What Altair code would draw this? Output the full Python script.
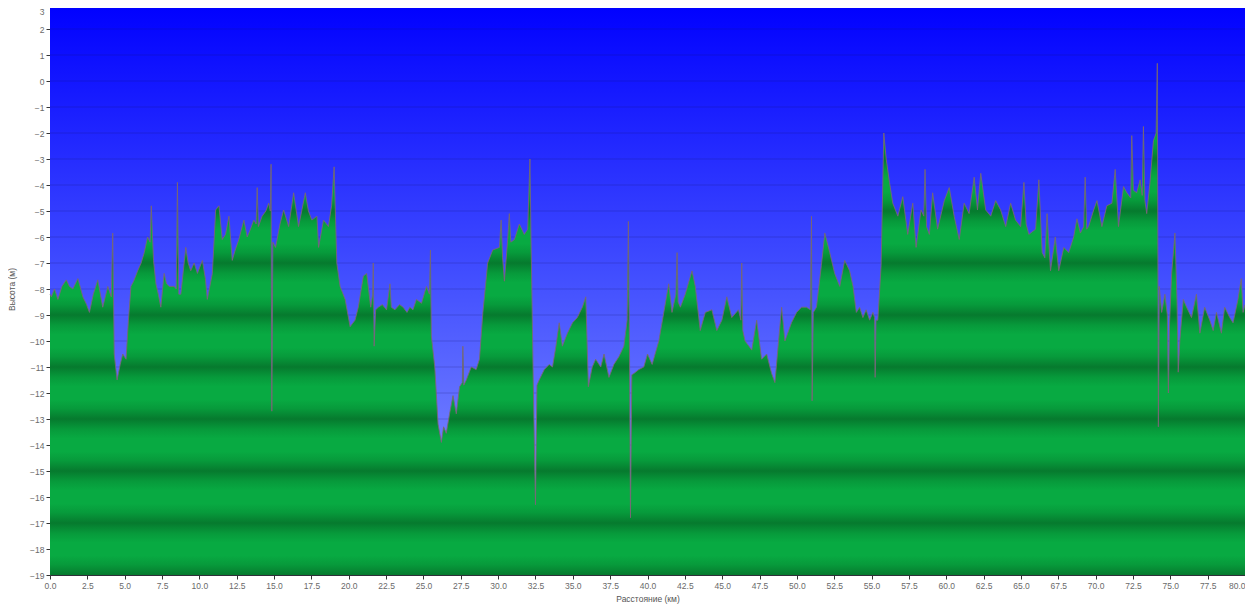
import altair as alt
import pandas as pd

# distance along track, km
km = [0.0, 0.09, 0.3, 0.53, 0.8, 1.09, 1.3, 1.53, 1.87, 2.2, 2.45, 2.64, 2.9, 3.2, 3.53, 3.87, 4.1, 4.2, 4.3, 4.49,
      4.7, 4.87, 5.09, 5.25, 5.42, 5.6, 5.87, 6.1, 6.31, 6.53, 6.7, 6.78, 6.93, 7.09, 7.25, 7.42, 7.64, 7.8, 7.98, 8.31,
      8.45, 8.53, 8.62, 8.76, 9.09, 9.25, 9.42, 9.65, 9.87, 10.2, 10.4, 10.53, 10.7, 10.87, 11.09, 11.31, 11.53, 11.75, 11.98, 12.2,
      12.4, 12.64, 12.98, 13.2, 13.42, 13.64, 13.8, 13.87, 13.95, 14.2, 14.45, 14.64, 14.75, 14.8, 14.85, 14.92, 15.1, 15.4, 15.64, 15.98,
      16.31, 16.64, 16.85, 17.09, 17.3, 17.53, 17.87, 17.98, 18.31, 18.64, 18.85, 19.02, 19.2, 19.42, 19.76, 20.09, 20.42, 20.64, 20.98, 21.2,
      21.47, 21.6, 21.64, 21.7, 21.8, 21.98, 22.25, 22.53, 22.76, 22.85, 23.09, 23.4, 23.64, 23.9, 24.09, 24.3, 24.53, 24.87, 25.2, 25.4,
      25.47, 25.53, 25.76, 25.98, 26.2, 26.35, 26.53, 26.75, 26.98, 27.2, 27.42, 27.6, 27.64, 27.7, 27.87, 28.2, 28.53, 28.75, 28.98, 29.3,
      29.64, 30.09, 30.2, 30.3, 30.42, 30.64, 30.75, 30.85, 31.09, 31.42, 31.75, 31.98, 32.13, 32.2, 32.35, 32.5, 32.6, 32.75, 33.09, 33.42,
      33.64, 33.87, 34.09, 34.3, 34.64, 34.98, 35.3, 35.64, 35.87, 36.04, 36.3, 36.53, 36.87, 37.09, 37.42, 37.75, 38.09, 38.42, 38.64, 38.72,
      38.8, 38.86, 38.95, 39.09, 39.42, 39.75, 40.0, 40.31, 40.76, 41.09, 41.42, 41.64, 41.9, 41.98, 42.05, 42.2, 42.53, 42.98, 43.2, 43.53,
      43.87, 44.31, 44.64, 44.98, 45.31, 45.64, 46.09, 46.25, 46.31, 46.38, 46.53, 46.98, 47.31, 47.64, 47.98, 48.31, 48.53, 48.76, 48.98, 49.2,
      49.64, 49.98, 50.31, 50.64, 50.9, 50.98, 51.02, 51.1, 51.31, 51.64, 51.87, 52.2, 52.53, 52.87, 53.2, 53.53, 53.76, 53.98, 54.2, 54.42,
      54.64, 54.87, 55.09, 55.2, 55.24, 55.3, 55.42, 55.64, 55.82, 55.98, 56.2, 56.42, 56.76, 57.09, 57.42, 57.76, 57.98, 58.31, 58.5, 58.58,
      58.68, 58.87, 59.09, 59.42, 59.87, 60.2, 60.53, 60.87, 61.2, 61.53, 61.87, 62.09, 62.31, 62.64, 62.98, 63.31, 63.64, 63.98, 64.31, 64.64,
      64.98, 65.2, 65.35, 65.53, 65.98, 66.2, 66.42, 66.6, 66.75, 66.98, 67.3, 67.53, 67.87, 68.2, 68.53, 68.75, 68.98, 69.2, 69.3, 69.4,
      69.53, 69.87, 70.09, 70.42, 70.75, 71.09, 71.31, 71.53, 71.87, 72.09, 72.35, 72.42, 72.53, 72.75, 72.98, 73.12, 73.2, 73.3, 73.42, 73.64,
      73.87, 74.05, 74.13, 74.2, 74.26, 74.42, 74.64, 74.8, 74.87, 74.95, 75.09, 75.31, 75.45, 75.53, 75.64, 75.87, 76.09, 76.42, 76.75, 76.98,
      77.3, 77.64, 77.87, 78.09, 78.42, 78.64, 78.98, 79.2, 79.53, 79.75, 79.87, 80.0]

# elevation, m
elev = [-8.2, -8.3, -8.0, -8.4, -7.9, -7.65, -7.9, -8.0, -7.6, -8.3, -8.6, -8.9, -8.2, -7.65, -8.7, -7.9, -8.3, -5.85, -10.5, -11.5,
        -10.9, -10.5, -10.7, -9.2, -7.9, -7.7, -7.3, -7.0, -6.6, -6.0, -6.2, -4.8, -6.9, -7.8, -8.2, -8.7, -7.4, -7.8, -7.9, -7.9,
        -8.0, -3.9, -8.2, -8.2, -6.4, -7.0, -7.3, -7.0, -7.4, -6.9, -7.6, -8.4, -7.9, -7.4, -4.96, -4.8, -6.1, -5.9, -5.2, -6.9,
        -6.5, -6.1, -5.35, -6.0, -5.7, -5.35, -5.5, -4.1, -5.6, -5.2, -5.0, -4.7, -5.0, -3.2, -12.7, -6.2, -6.4, -5.5, -4.96, -5.6,
        -4.3, -5.6, -5.0, -4.3, -5.0, -5.35, -5.2, -6.4, -5.35, -5.6, -4.8, -3.3, -7.0, -7.9, -8.4, -9.45, -9.2, -8.7, -7.5, -7.4,
        -8.7, -8.2, -7.0, -10.2, -8.8, -8.7, -8.6, -8.8, -7.8, -8.7, -8.8, -8.6, -8.7, -8.9, -8.7, -8.8, -8.4, -8.55, -7.9, -8.2,
        -6.5, -9.8, -11.0, -13.2, -13.9, -13.3, -13.55, -12.8, -12.1, -12.8, -11.76, -11.6, -10.2, -11.7, -11.5, -11.0, -11.1, -10.7, -8.9, -7.0,
        -6.5, -6.4, -5.35, -6.8, -7.7, -6.1, -5.1, -6.2, -6.1, -5.5, -5.9, -5.7, -3.0, -6.0, -11.5, -16.3, -11.7, -11.5, -11.1, -10.9,
        -11.0, -10.2, -9.3, -10.2, -9.7, -9.3, -9.1, -8.7, -8.3, -11.76, -11.0, -10.7, -11.0, -10.5, -11.4, -10.9, -10.6, -10.2, -9.2, -5.4,
        -10.8, -16.8, -11.3, -11.25, -11.1, -11.0, -10.5, -10.9, -10.0, -8.9, -7.8, -8.9, -8.2, -6.6, -8.5, -8.7, -8.2, -7.3, -7.9, -9.6,
        -8.9, -8.8, -9.6, -9.2, -8.3, -9.1, -8.8, -9.2, -7.0, -9.6, -10.0, -10.35, -9.2, -10.7, -10.5, -11.25, -11.6, -10.1, -8.7, -10.0,
        -9.3, -8.9, -8.7, -8.7, -8.8, -5.2, -12.3, -8.9, -8.7, -7.1, -5.85, -6.6, -7.4, -7.9, -6.9, -7.3, -7.9, -8.9, -8.7, -9.1,
        -8.8, -9.2, -8.9, -9.1, -11.4, -9.2, -9.2, -7.1, -2.0, -3.0, -3.9, -4.7, -5.2, -4.45, -5.9, -4.7, -6.4, -4.96, -5.2, -3.4,
        -5.6, -5.9, -4.3, -5.7, -4.6, -4.1, -5.2, -6.1, -4.7, -5.1, -3.7, -4.96, -3.55, -4.96, -5.2, -4.6, -4.96, -5.6, -4.7, -5.35,
        -5.6, -3.9, -5.5, -5.9, -5.7, -3.8, -6.6, -6.8, -5.1, -7.3, -6.0, -7.3, -6.4, -6.6, -6.0, -5.3, -5.85, -5.6, -3.7, -5.7,
        -5.6, -4.96, -4.6, -5.6, -4.8, -4.7, -3.4, -5.6, -4.06, -4.3, -4.5, -2.1, -4.2, -4.3, -3.8, -4.4, -1.75, -4.6, -5.1, -3.9,
        -2.3, -2.0, 0.68, -13.3, -7.9, -8.9, -8.2, -9.0, -12.0, -9.3, -7.4, -5.85, -8.5, -11.2, -9.96, -8.4, -8.7, -9.1, -8.2, -9.7,
        -8.7, -9.2, -9.6, -8.9, -9.7, -8.7, -9.1, -9.3, -8.4, -7.6, -8.9, -8.6]

y_ticks = [-19, -18, -17, -16, -15, -14, -13, -12, -11, -10, -9, -8, -7, -6, -5, -4, -3, -2, -1, 0, 1, 2, 3]
x_ticks = [0.0, 2.5, 5.0, 7.5, 10.0, 12.5, 15.0, 17.5, 20.0, 22.5, 25.0, 27.5, 30.0, 32.5, 35.0, 37.5, 40.0,
           42.5, 45.0, 47.5, 50.0, 52.5, 55.0, 57.5, 60.0, 62.5, 65.0, 67.5, 70.0, 72.5, 75.0, 77.5, 80.0]

df = pd.DataFrame({"km": km, "elev": elev})
grid_df = pd.DataFrame({"elev": y_ticks})
bg_df = pd.DataFrame({"k": [0]})

X_MIN, X_MAX = 0, 80
Y_MIN, Y_MAX = -19, 3

# striped green fill (dark bands at odd metres), stops relative to the area's bounding box
top = max(elev)
span = top - Y_MIN
DARK, MID, LIGHT = "#067a2e", "#079a3b", "#08aa42"
raw = []
for n in range(Y_MIN, 2):
    if n % 2 != 0:
        raw += [(n + 0.75, LIGHT), (n + 0.4, MID), (n, DARK), (n - 0.4, MID), (n - 0.75, LIGHT)]
raw = [(v, c) for v, c in raw if Y_MIN <= v <= top]
raw.sort(key=lambda t: -t[0])
green_stops = [alt.GradientStop(color=LIGHT, offset=0)]
for v, c in raw:
    green_stops.append(alt.GradientStop(color=c, offset=round((top - v) / span, 5)))
green_stops.append(alt.GradientStop(color=DARK, offset=1))

green = alt.LinearGradient(gradient="linear", stops=green_stops, x1=0, x2=0, y1=0, y2=1)

blue = alt.LinearGradient(
    gradient="linear",
    stops=[alt.GradientStop(color="#0000ff", offset=0),
           alt.GradientStop(color="#4552ff", offset=0.5),
           alt.GradientStop(color="#909eff", offset=1)],
    x1=0, x2=0, y1=0, y2=1,
)

x_scale = alt.Scale(domain=[X_MIN, X_MAX], nice=False, zero=False)
y_scale = alt.Scale(domain=[Y_MIN, Y_MAX], nice=False, zero=False)

x_axis = alt.Axis(
    values=x_ticks, format=".1f", title="Расстояние   (км)", grid=False,
    labelOverlap=False,
    labelAlign={"condition": {"test": "datum.value >= 80", "value": "right"}, "value": "center"},
)
y_axis = alt.Axis(
    values=y_ticks, format="d", title="Высота (м)", grid=False, labelOverlap=False,
    titleX=-34,
    labelBaseline={"condition": {"test": "datum.value >= 3", "value": "top"}, "value": "middle"},
    labelOffset={"condition": {"test": "datum.value >= 3", "value": 4}, "value": 0},
)

bg = alt.Chart(bg_df).mark_rect(fill=blue).encode(
    x=alt.X(datum=X_MIN, scale=x_scale, axis=x_axis), x2=alt.datum(X_MAX),
    y=alt.Y(datum=Y_MAX, scale=y_scale, axis=y_axis), y2=alt.datum(Y_MIN),
)
grid = alt.Chart(grid_df).mark_rule(color="#10106a", opacity=0.22, strokeWidth=1).encode(
    y=alt.Y("elev:Q", scale=y_scale, axis=y_axis)
)
area = alt.Chart(df).mark_area(fill=green, interpolate="linear").encode(
    x=alt.X("km:Q", scale=x_scale, axis=x_axis),
    y=alt.Y("elev:Q", scale=y_scale, axis=y_axis),
    y2=alt.datum(Y_MIN),
)
line = alt.Chart(df).mark_line(color="#7a6676", strokeWidth=1, opacity=0.85).encode(
    x=alt.X("km:Q", scale=x_scale, axis=x_axis),
    y=alt.Y("elev:Q", scale=y_scale, axis=y_axis),
)

chart = (
    alt.layer(bg, grid, area, line)
    .properties(
        width=1195, height=572,
        autosize=alt.AutoSizeParams(type="none"),
        padding={"left": 42, "top": -5, "right": 0, "bottom": 32},
        background="white",
    )
    .configure_view(stroke="transparent")
    .configure_axis(
        labelFont="Liberation Sans", labelFontSize=8.5, labelColor="#6a6a6a",
        titleFont="Liberation Sans", titleFontSize=8.5, titleColor="#555555", titleFontWeight="normal",
        domainColor="#333333", tickColor="#333333", tickSize=4, labelPadding=2,
    )
    .configure_axisX(titlePadding=5)
)

chart.save("out.html", embed_options={"renderer": "svg", "actions": False})
